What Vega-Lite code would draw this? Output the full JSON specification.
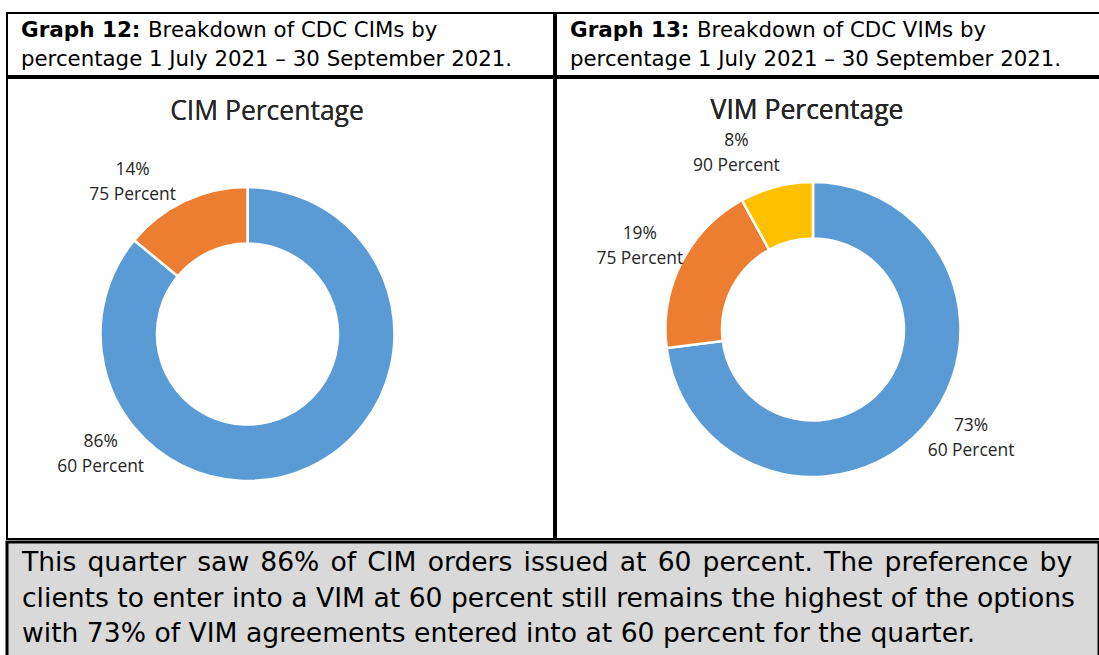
{
  "$schema": "https://vega.github.io/schema/vega-lite/v6.json",
  "padding": {"left": 5, "top": 12, "right": 0, "bottom": 0},
  "spacing": 0,
  "config": {
    "font": "DejaVu Sans",
    "view": {"stroke": "#000000", "strokeWidth": 2},
    "concat": {"spacing": 0}
  },
  "datasets": {
    "cim": [
      {"cat": "60 Percent", "pct": 86, "label": "86%\n60 Percent"},
      {"cat": "75 Percent", "pct": 14, "label": "14%\n75 Percent"}
    ],
    "vim": [
      {"cat": "60 Percent", "pct": 73, "label": "73%\n60 Percent"},
      {"cat": "75 Percent", "pct": 19, "label": "19%\n75 Percent"},
      {"cat": "90 Percent", "pct": 8, "label": "8%\n90 Percent"}
    ],
    "note": [
      {"text": "This \u200aquarter \u200asaw \u200a86% \u200aof \u200aCIM \u200aorders \u200aissued \u200aat \u200a60 \u200apercent. \u200aThe \u200apreference \u200aby\nclients to enter into a VIM at 60 percent still remains the highest of the options\nwith 73% of VIM agreements entered into at 60 percent for the quarter."}
    ]
  },
  "vconcat": [
    {
      "spacing": 0,
      "hconcat": [
        {
          "width": 547, "height": 63,
          "view": {"stroke": "#000000", "strokeWidth": 2},
          "data": {"values": [{}]},
          "layer": [
            {"mark": {"type": "text", "text": "Graph 12:", "fontWeight": "bold", "fontSize": 21.5, "align": "left", "baseline": "alphabetic", "color": "#000000"}, "encoding": {"x": {"value": 14}, "y": {"value": 24}}},
            {"mark": {"type": "text", "text": "Breakdown of CDC CIMs by", "fontSize": 21.3, "align": "left", "baseline": "alphabetic", "color": "#000000"}, "encoding": {"x": {"value": 141}, "y": {"value": 24}}},
            {"mark": {"type": "text", "text": "percentage 1 July 2021 \u2013 30 September 2021.", "fontSize": 21.3, "align": "left", "baseline": "alphabetic", "color": "#000000"}, "encoding": {"x": {"value": 14}, "y": {"value": 53}}}
          ]
        },
        {
          "width": 545, "height": 63,
          "view": {"stroke": "#000000", "strokeWidth": 2},
          "data": {"values": [{}]},
          "layer": [
            {"mark": {"type": "text", "text": "Graph 13:", "fontWeight": "bold", "fontSize": 21.5, "align": "left", "baseline": "alphabetic", "color": "#000000"}, "encoding": {"x": {"value": 14}, "y": {"value": 24}}},
            {"mark": {"type": "text", "text": "Breakdown of CDC VIMs by", "fontSize": 21.3, "align": "left", "baseline": "alphabetic", "color": "#000000"}, "encoding": {"x": {"value": 141}, "y": {"value": 24}}},
            {"mark": {"type": "text", "text": "percentage 1 July 2021 \u2013 30 September 2021.", "fontSize": 21.3, "align": "left", "baseline": "alphabetic", "color": "#000000"}, "encoding": {"x": {"value": 14}, "y": {"value": 53}}}
          ]
        }
      ]
    },
    {
      "spacing": 0,
      "hconcat": [
        {
          "width": 547, "height": 461,
          "data": {"name": "cim"},
          "layer": [
            {
              "mark": {"type": "text", "text": "CIM Percentage", "font": "Open Sans", "fontSize": 26.5, "align": "center", "baseline": "alphabetic", "color": "#262626"},
              "encoding": {"x": {"value": 260}, "y": {"value": 42}}
            },
            {
              "mark": {"type": "arc", "innerRadius": 90.5, "outerRadius": 147, "stroke": "#ffffff", "strokeWidth": 2.5},
              "encoding": {
                "x": {"value": 240.5}, "y": {"value": 256},
                "theta": {"field": "pct", "type": "quantitative", "stack": true},
                "order": {"field": "cat", "sort": "ascending"},
                "color": {"field": "cat", "type": "nominal", "legend": null,
                  "scale": {"domain": ["60 Percent", "75 Percent", "90 Percent"], "range": ["#5B9BD5", "#ED7D31", "#FFC000"]}}
              }
            },
            {
              "mark": {"type": "text", "radius": 190, "dy": -12.5, "font": "Open Sans", "fontSize": 17.4, "lineBreak": "\n", "lineHeight": 25, "align": "center", "baseline": "middle", "color": "#262626"},
              "encoding": {
                "x": {"value": 240.5}, "y": {"value": 256},
                "theta": {"field": "pct", "type": "quantitative", "stack": true, "scale": {"domain": [0, 100], "range": [2.6407, 5.8591]}},
                "order": {"field": "cat", "sort": "ascending"},
                "text": {"field": "label"}
              }
            }
          ],
          "resolve": {"scale": {"theta": "independent"}}
        },
        {
          "width": 545, "height": 461,
          "data": {"name": "vim"},
          "layer": [
            {
              "mark": {"type": "text", "text": "VIM Percentage", "font": "Open Sans", "fontSize": 26.5, "align": "center", "baseline": "alphabetic", "color": "#262626"},
              "encoding": {"x": {"value": 251}, "y": {"value": 41}}
            },
            {
              "mark": {"type": "arc", "innerRadius": 91, "outerRadius": 147.5, "stroke": "#ffffff", "strokeWidth": 2.5},
              "encoding": {
                "x": {"value": 257}, "y": {"value": 251.5},
                "theta": {"field": "pct", "type": "quantitative", "stack": true},
                "order": {"field": "cat", "sort": "ascending"},
                "color": {"field": "cat", "type": "nominal", "legend": null,
                  "scale": {"domain": ["60 Percent", "75 Percent", "90 Percent"], "range": ["#5B9BD5", "#ED7D31", "#FFC000"]}}
              }
            },
            {
              "mark": {"type": "text", "radius": 192, "dy": -12.5, "font": "Open Sans", "fontSize": 17.4, "lineBreak": "\n", "lineHeight": 25, "align": "center", "baseline": "middle", "color": "#262626"},
              "encoding": {
                "x": {"value": 257}, "y": {"value": 251.5},
                "theta": {"field": "pct", "type": "quantitative", "stack": true, "scale": {"type": "pow", "exponent": 0.54, "domain": [0, 100], "range": [-3.2184, 6.0755]}},
                "order": {"field": "cat", "sort": "ascending"},
                "text": {"field": "label"}
              }
            }
          ],
          "resolve": {"scale": {"theta": "independent"}}
        }
      ]
    },
    {
      "width": 1092, "height": 118,
      "view": {"fill": "#D9D9D9", "stroke": "#000000", "strokeWidth": 3},
      "data": {"name": "note"},
      "mark": {"type": "text", "fontSize": 26.6, "lineBreak": "\n", "lineHeight": 35.5, "align": "left", "baseline": "alphabetic", "color": "#000000"},
      "encoding": {"x": {"value": 15}, "y": {"value": 29}, "text": {"field": "text"}}
    }
  ]
}
